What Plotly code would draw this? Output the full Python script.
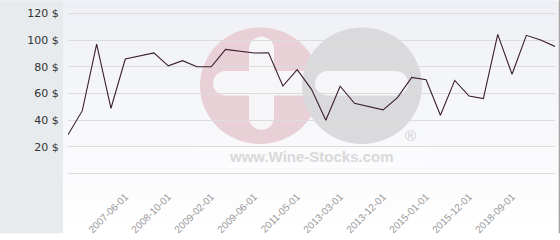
import plotly.graph_objects as go

dates = ["2005-03-01", "2005-10-01", "2006-06-01", "2006-12-01", "2007-06-01",
         "2007-12-01", "2008-05-01", "2008-10-01", "2008-11-01", "2008-12-01",
         "2009-02-01", "2009-03-01", "2009-05-01", "2009-06-01", "2010-03-01",
         "2010-11-01", "2011-05-01", "2011-12-01", "2012-07-01", "2013-03-01",
         "2013-06-01", "2013-09-01", "2013-12-01", "2014-04-01", "2014-09-01",
         "2015-01-01", "2015-05-01", "2015-09-01", "2015-12-01", "2016-10-01",
         "2017-09-01", "2018-09-01", "2019-05-01", "2020-01-01", "2020-09-01"]
prices = [28.9, 47.0, 96.9, 48.8, 85.7,
          88.0, 90.3, 80.6, 84.5, 79.9,
          79.9, 93.0, 91.6, 90.3, 90.4,
          65.5, 77.7, 63.0, 39.8, 65.3,
          52.5, 50.0, 47.6, 56.8, 71.9,
          70.2, 43.5, 69.7, 58.0, 56.1,
          104.2, 74.3, 103.5, 100.0, 95.2]
tick_dates = ["2007-06-01", "2008-10-01", "2009-02-01", "2009-06-01", "2011-05-01",
              "2013-03-01", "2013-12-01", "2015-01-01", "2015-12-01", "2018-09-01"]
y_ticks = [0, 20, 40, 60, 80, 100, 120]
y_labels = ["", "20 $", "40 $", "60 $", "80 $", "100 $", "120 $"]

W, H = 560, 240
L, R, T, B = 68, 5, 8, 59
PW, PH = W - L - R, H - T - B


def px(x):
    return (x - L) / PW


def py(y):
    return (H - B - y) / PH


shapes = []


def rect(x0, y0, x1, y1, color, opacity=1.0):
    shapes.append(dict(type="rect", xref="paper", yref="paper",
                       x0=px(x0), x1=px(x1), y0=py(y1), y1=py(y0),
                       fillcolor=color, opacity=opacity, line_width=0, layer="below"))


def circle(cx, cy, r, color):
    shapes.append(dict(type="circle", xref="paper", yref="paper",
                       x0=px(cx - r), x1=px(cx + r), y0=py(cy + r), y1=py(cy - r),
                       fillcolor=color, line_width=0, layer="below"))


# left strip
rect(0, 0, 63, 240, "#e7ebee")
# gradient background
n = 30
top = (238, 240, 245)
bot = (255, 255, 255)
for i in range(n):
    t = i / (n - 1)
    c = tuple(round(top[k] + (bot[k] - top[k]) * t) for k in range(3))
    rect(63, i * 8, 558, (i + 1) * 8 + 0.5, "rgb(%d,%d,%d)" % c)

# watermark
wh = "#f6f6f9"
circle(260, 88, 60, "#e9cfd6")
rect(249, 49.5, 274, 121.5, wh)
circle(261.5, 50, 12.5, wh)
circle(261.5, 121, 12.5, wh)
rect(225, 73, 310, 98, wh)
circle(225.5, 85.5, 12.5, wh)
circle(362, 88, 60, "#dadadc")
rect(327, 73, 396, 98, wh)
circle(327.5, 85.5, 12.5, wh)
circle(395.5, 85.5, 12.5, wh)
rect(197, 150, 427, 173, "#ffffff", 0.25)

# right border
shapes.append(dict(type="line", xref="paper", yref="paper",
                   x0=px(559.3), x1=px(559.3), y0=py(240), y1=py(0),
                   line=dict(color="#9a9a9a", width=1.2), layer="above"))

fig = go.Figure()
fig.add_trace(go.Scatter(x=dates, y=prices, mode="lines",
                         line=dict(color="#3b1e2c", width=1.1),
                         hoverinfo="skip"))

fig.update_layout(
    width=W, height=H,
    margin=dict(l=L, r=R, t=T, b=B, pad=0),
    paper_bgcolor="#ffffff",
    plot_bgcolor="rgba(0,0,0,0)",
    showlegend=False,
    shapes=shapes,
    annotations=[
        dict(x=px(311.5), y=py(161), xref="paper", yref="paper", text="<b>www.Wine-Stocks.com</b>",
             showarrow=False, xanchor="center", yanchor="middle",
             font=dict(family="Liberation Sans", size=15, color="#d9d9d9")),
        dict(x=px(410), y=py(139), xref="paper", yref="paper", text="®",
             showarrow=False, xanchor="center", yanchor="middle",
             font=dict(family="Liberation Sans", size=15, color="#cfcfcf")),
    ],
    xaxis=dict(
        type="category", categoryorder="array", categoryarray=dates,
        range=[0, len(dates) - 1],
        tickmode="array", tickvals=tick_dates, ticktext=tick_dates,
        tickangle=-45, showgrid=False, zeroline=False, showline=False,
        ticks="outside", ticklen=10, tickcolor="rgba(0,0,0,0)",
        tickfont=dict(family="Liberation Sans", size=10, color="#999999"),
    ),
    yaxis=dict(
        range=[-2, 124], tickmode="array", tickvals=y_ticks, ticktext=y_labels,
        showgrid=True, gridcolor="#dcdcdc", gridwidth=1, zeroline=False, showline=False,
        ticks="outside", ticklen=6, tickcolor="rgba(0,0,0,0)",
        tickfont=dict(family="DejaVu Sans", size=11, color="#333333"),
    ),
)

fig.write_html("out.html")
